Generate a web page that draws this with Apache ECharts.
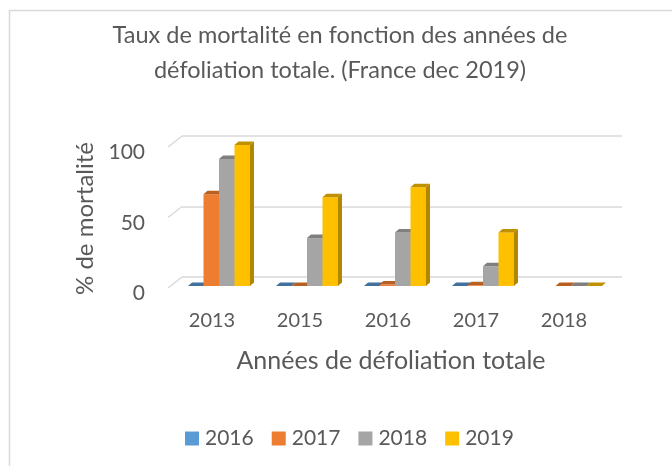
<!DOCTYPE html>
<html>
<head>
<meta charset="utf-8">
<script src="https://cdn.jsdelivr.net/npm/echarts@6/dist/echarts.min.js"></script>
<style>
html,body{margin:0;padding:0;background:#fff;}
#chart{width:672px;height:466px;}
</style>
</head>
<body>
<div id="chart"></div>
<script>
// ---- data ----
var categories = ['2013', '2015', '2016', '2017', '2018'];
var seriesNames = ['2016', '2017', '2018', '2019'];
var s2016 = [0, 0, 0, 0, null];
var s2017 = [65, 0, 1, 0.5, 0];
var s2018 = [90, 34, 38, 14, 0];
var s2019 = [100, 63, 70, 38, 0];
var yTicks = [0, 50, 100];

var seriesValues = [s2016, s2017, s2018, s2019];
var colors = ['#5B9BD5', '#ED7D31', '#A5A5A5', '#FFC000'];
var topColors = ['#41719C', '#B85F22', '#7F7F7F', '#BF9000'];
var sideColors = ['#3E6A93', '#A9561F', '#777777', '#B38600'];

var FONT = 'Lato, "Open Sans", sans-serif';
var TXT = '#595959';

// 3D offsets (back plane -> front plane)
var BAR_DX = -7, BAR_DY = 9, DEP_X = 4, DEP_Y = 3.5;

function makeBarRender(si) {
  return function (params, api) {
    var v = api.value(1);
    if (v === null || v === undefined || isNaN(v)) return;
    var ci = api.value(0);
    var band = api.size([1, 0])[0];
    var bw = band * 0.176;
    var c = api.coord([ci, v]);
    var b = api.coord([ci, 0]);
    var x0 = c[0] + BAR_DX - 2 * bw + si * bw;
    var yt = c[1] + BAR_DY;
    var yb = b[1] + BAR_DY;
    var children = [];
    if (yb - yt > 0.5) {
      children.push({type: 'rect', shape: {x: x0, y: yt, width: bw, height: yb - yt},
        style: {fill: colors[si]}});
      children.push({type: 'polygon', shape: {points: [[x0 + bw, yt], [x0 + bw + DEP_X, yt - DEP_Y], [x0 + bw + DEP_X, yb - DEP_Y], [x0 + bw, yb]]},
        style: {fill: sideColors[si]}});
    }
    children.push({type: 'polygon', shape: {points: [[x0, yt], [x0 + bw, yt], [x0 + bw + DEP_X, yt - DEP_Y], [x0 + DEP_X, yt - DEP_Y]]},
      style: {fill: topColors[si]}});
    return {type: 'group', children: children};
  };
}

var series = seriesNames.map(function (name, si) {
  return {
    name: name,
    type: 'custom',
    renderItem: makeBarRender(si),
    itemStyle: {color: colors[si]},
    data: categories.map(function (c, j) { return [j, seriesValues[si][j]]; }),
    z: 3
  };
});

// left-side depth lines of the gridlines
series.push({
  name: '_grid3d',
  type: 'custom',
  silent: true,
  renderItem: function (params, api) {
    var y = api.coord([0, api.value(1)])[1];
    var x = params.coordSys.x;
    return {type: 'line', shape: {x1: x, y1: y, x2: x - 14, y2: y + 11},
      style: {stroke: '#D9D9D9', lineWidth: 1.5}};
  },
  data: yTicks.map(function (t) { return [0, t]; }),
  z: 1
});

var chart = echarts.init(document.getElementById('chart'), null, {renderer: 'canvas'});
chart.setOption({
  backgroundColor: '#ffffff',
  animation: false,
  color: colors,
  title: {
    text: 'Taux de mortalité en fonction des années de\ndéfoliation totale. (France dec 2019)',
    left: 335, top: 13, textAlign: 'center',
    textStyle: {fontFamily: FONT, fontSize: 23.5, fontWeight: 'normal', color: TXT, lineHeight: 35}
  },
  graphic: [{
    type: 'rect', shape: {x: 9.5, y: 10.5, width: 700, height: 500},
    style: {fill: 'none', stroke: '#D9D9D9', lineWidth: 1.5}, silent: true, z: -1
  }],
  legend: {
    data: seriesNames,
    left: 185, top: 428, padding: 0,
    icon: 'rect', itemWidth: 14, itemHeight: 14, itemGap: 18, itemStyle: {borderWidth: 0},
    textStyle: {fontFamily: FONT, fontSize: 21, color: TXT, padding: [0, 0, 0, 1]}
  },
  grid: {left: 182, right: 50, top: 136, bottom: 189, containLabel: false},
  xAxis: {
    type: 'category', data: categories,
    axisLine: {show: false}, axisTick: {show: false},
    axisLabel: {fontFamily: FONT, fontSize: 20, color: TXT, margin: 34, padding: [0, 28, 0, 0]},
    name: 'Années de défoliation totale', nameLocation: 'middle', nameGap: 71,
    nameTextStyle: {fontFamily: FONT, fontSize: 25, color: TXT, padding: [0, 22, 0, 0]}
  },
  yAxis: {
    type: 'value', min: 0, max: 100, interval: 50,
    axisLine: {show: false}, axisTick: {show: false},
    splitLine: {lineStyle: {color: '#D9D9D9', width: 1.5}},
    axisLabel: {fontFamily: FONT, fontSize: 21, color: TXT, margin: 37, verticalAlign: 'top', padding: [6, 0, 0, 0]},
    name: '% de mortalité', nameLocation: 'middle', nameGap: 84, nameRotate: 90,
    nameTextStyle: {fontFamily: FONT, fontSize: 24, color: TXT, padding: [0, 24, 0, 0]}
  },
  series: series
});
</script>
</body>
</html>
